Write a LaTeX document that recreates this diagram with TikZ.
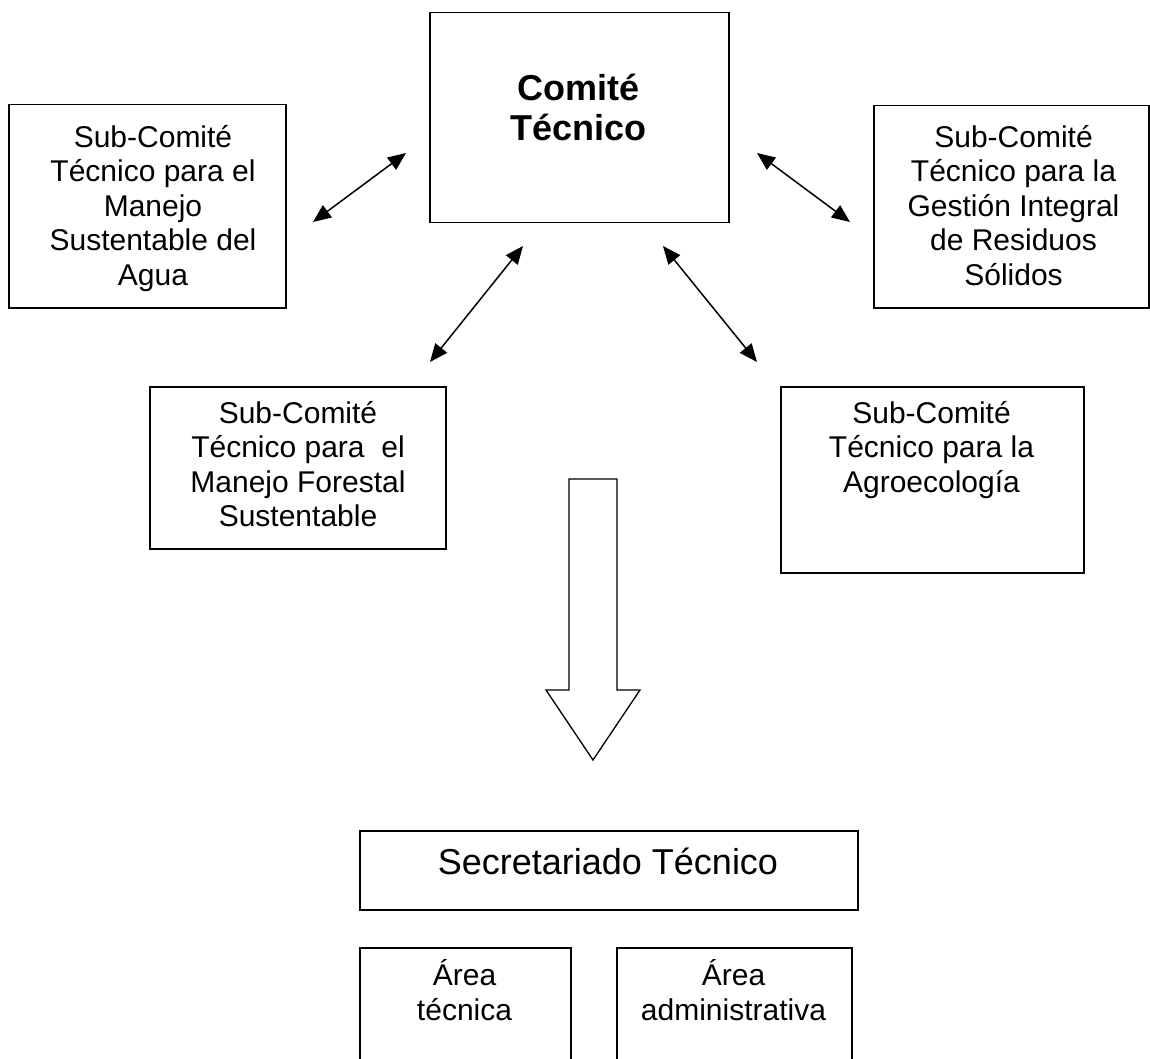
\documentclass[tikz,border=0pt]{standalone}
\usepackage{fontspec}
\setmainfont{Liberation Sans}
\usetikzlibrary{arrows.meta}
\tikzset{
  box/.style={draw, line width=1.5pt, rectangle, inner sep=0pt, anchor=north west},
  txt/.style={align=center, inner sep=0pt, anchor=north, font=\fontsize{30}{34.5}\selectfont},
  bigtxt/.style={align=center, inner sep=0pt, anchor=north, font=\fontsize{36}{40}\selectfont},
  dbl/.style={line width=1.5pt, {Triangle[length=18pt,width=15pt]}-{Triangle[length=18pt,width=15pt]}},
  blockarrow/.style={draw, line width=1.3pt, line join=miter, fill=white}
}
\begin{document}
\begin{tikzpicture}[x=1pt,y=-1pt]
\useasboundingbox (0,0) rectangle (1150,1059);
\clip (0,0) rectangle (1150,1059);
\fill[white] (0,0) rectangle (1150,1059);

% boxes
\node[box, minimum width=299pt, minimum height=210pt] (comite) at (429,12) {};
\node[box, minimum width=277pt, minimum height=203pt] (agua) at (8,104) {};
\node[box, minimum width=275pt, minimum height=202pt] (residuos) at (873,105) {};
\node[box, minimum width=296pt, minimum height=162pt] (forestal) at (149,386) {};
\node[box, minimum width=303pt, minimum height=186pt] (agro) at (780,386) {};
\node[box, minimum width=498pt, minimum height=79pt] (secre) at (359,830) {};
\node[box, minimum width=211pt, minimum height=140pt] (tecnica) at (359,947) {};
\node[box, minimum width=235pt, minimum height=140pt] (admin) at (616,947) {};

% texts
\node[bigtxt] (comitet) at (578.5,64) {\rule{0pt}{36pt}\bfseries Comité\\\bfseries Técnico};
\node[txt] (aguat) at (153,117) {\rule{0pt}{30pt}Sub-Comité\\Técnico para el\\Manejo\\Sustentable del\\Agua};
\node[txt] (residuost) at (1013.5,117) {\rule{0pt}{30pt}Sub-Comité\\Técnico para la\\Gestión Integral\\de Residuos\\Sólidos};
\node[txt] (forestalt) at (298,393) {\rule{0pt}{30pt}Sub-Comité\\Técnico para\ \ el\\Manejo Forestal\\Sustentable};
\node[txt] (agrot) at (931.5,393) {\rule{0pt}{30pt}Sub-Comité\\Técnico para la\\Agroecología};
\node[bigtxt] (secret) at (608,838) {\rule{0pt}{36pt}Secretariado Técnico};
\node[txt, font=\fontsize{30}{35}\selectfont] (tecnicat) at (464.5,955) {\rule{0pt}{30pt}Área\\técnica};
\node[txt, font=\fontsize{30}{35}\selectfont] (admint) at (733.5,955) {\rule{0pt}{30pt}Área\\administrativa};

% double-headed connectors
\coordinate (a1s) at (313,222); \coordinate (a1e) at (406,153);
\coordinate (a2s) at (757,153); \coordinate (a2e) at (850,222);
\coordinate (a3s) at (430,362); \coordinate (a3e) at (523,246);
\coordinate (a4s) at (663,246); \coordinate (a4e) at (757,362);
\draw[dbl] (a1s) -- (a1e);
\draw[dbl] (a2s) -- (a2e);
\draw[dbl] (a3s) -- (a3e);
\draw[dbl] (a4s) -- (a4e);

% block arrow
\coordinate (b1) at (569,479);
\coordinate (b2) at (617,479);
\coordinate (b3) at (617,690);
\coordinate (b4) at (640,690);
\coordinate (b5) at (593,760);
\coordinate (b6) at (546,690);
\coordinate (b7) at (569,690);
\draw[blockarrow] (b1) -- (b2) -- (b3) -- (b4) -- (b5) -- (b6) -- (b7) -- cycle;
\end{tikzpicture}
\end{document}
